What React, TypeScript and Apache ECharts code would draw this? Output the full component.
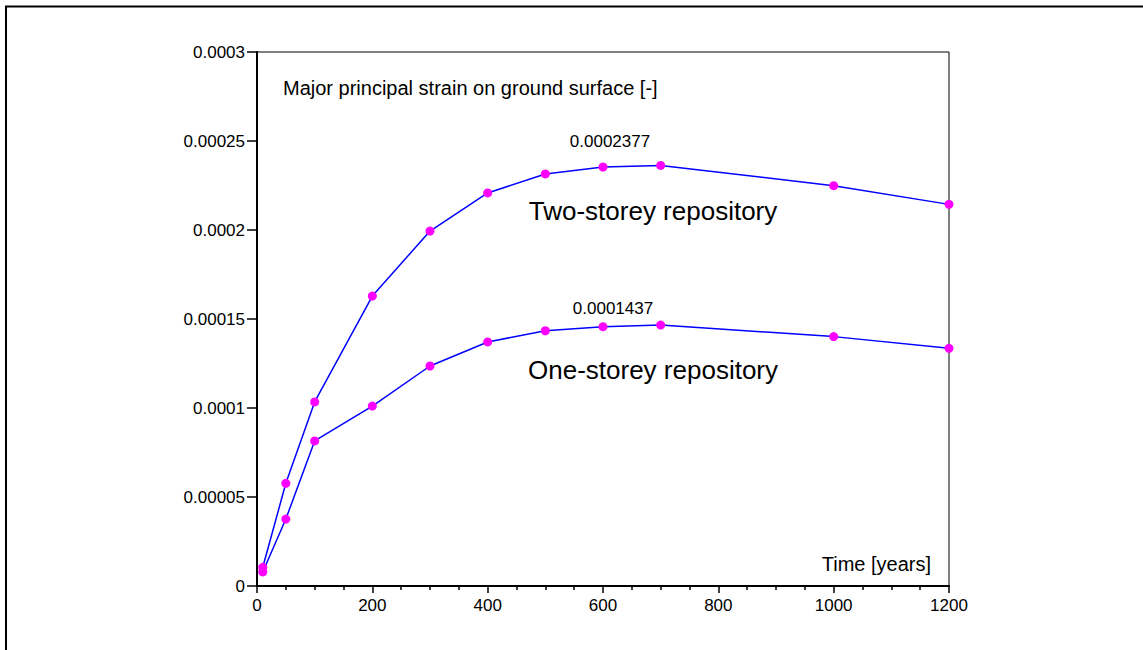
import React, { useEffect, useRef } from "react";
import * as echarts from "echarts";

const timeYears = [10, 50, 100, 200, 300, 400, 500, 600, 700, 1000, 1200];
const twoStorey = [1.05e-5, 5.77e-5, 1.034e-4, 1.629e-4, 1.994e-4, 2.208e-4, 2.315e-4, 2.354e-4, 2.363e-4, 2.249e-4, 2.144e-4];
const oneStorey = [7.9e-6, 3.76e-5, 8.15e-5, 1.011e-4, 1.236e-4, 1.371e-4, 1.434e-4, 1.457e-4, 1.466e-4, 1.401e-4, 1.335e-4];
const yTickLabels = ["0", "0.00005", "0.0001", "0.00015", "0.0002", "0.00025", "0.0003"];
const xTickLabels = ["0", "200", "400", "600", "800", "1000", "1200"];
const yTitle = "Major principal strain on ground surface [-]";
const xTitle = "Time [years]";
const twoLabel = "Two-storey repository";
const oneLabel = "One-storey repository";
const twoMax = "0.0002377";
const oneMax = "0.0001437";

const FONT = "'Liberation Sans', Arial, sans-serif";

export default function App() {
  const ref = useRef<HTMLDivElement>(null);
  useEffect(() => {
    const chart = echarts.init(ref.current!, null, { renderer: "svg" });
    const mk = (ys: number[]) => timeYears.map((x, i) => [x, ys[i]]);
    const series = [twoStorey, oneStorey].map((ys) => ({
      type: "line",
      data: mk(ys),
      symbol: "circle",
      symbolSize: 9,
      lineStyle: { color: "#0000ff", width: 1.5 },
      itemStyle: { color: "#ff00ff" },
      silent: true,
    }));
    chart.setOption({
      animation: false,
      backgroundColor: "#fff",
      textStyle: { fontFamily: FONT },
      grid: { left: 257, top: 52, width: 692, height: 534, show: true, borderColor: "#000", borderWidth: 1 },
      xAxis: {
        type: "value",
        min: 0,
        max: 1200,
        interval: 200,
        axisLine: { lineStyle: { color: "#000", width: 2 } },
        axisTick: { length: 7, lineStyle: { color: "#000", width: 1.5 } },
        minorTick: { show: true, splitNumber: 4, length: 4, lineStyle: { color: "#000", width: 1.5 } },
        splitLine: { show: false },
        axisLabel: {
          color: "#000",
          fontSize: 17,
          fontFamily: FONT,
          margin: 11,
          formatter: (v: number) => xTickLabels[Math.round(v / 200)] ?? "",
        },
      },
      yAxis: {
        type: "value",
        min: 0,
        max: 0.0003,
        interval: 0.00005,
        axisLine: { lineStyle: { color: "#000", width: 2 } },
        axisTick: { length: 10, lineStyle: { color: "#000", width: 1.5 } },
        splitLine: { show: false },
        axisLabel: {
          color: "#000",
          fontSize: 17,
          fontFamily: FONT,
          margin: 12,
          formatter: (v: number) => yTickLabels[Math.round(v / 0.00005)] ?? "",
        },
      },
      graphic: [
        { type: "line", shape: { x1: 5, y1: 6.5, x2: 1143, y2: 6.5 }, style: { stroke: "#000", lineWidth: 2 } },
        { type: "line", shape: { x1: 6, y1: 6, x2: 6, y2: 650 }, style: { stroke: "#000", lineWidth: 2 } },
        { type: "text", x: 283, y: 88, style: { text: yTitle, fontSize: 20, fontFamily: FONT, fill: "#000", textAlign: "left", textVerticalAlign: "middle" } },
        { type: "text", x: 931, y: 564, style: { text: xTitle, fontSize: 20, fontFamily: FONT, fill: "#000", textAlign: "right", textVerticalAlign: "middle" } },
        { type: "text", x: 610, y: 141, style: { text: twoMax, fontSize: 17, fontFamily: FONT, fill: "#000", textAlign: "center", textVerticalAlign: "middle" } },
        { type: "text", x: 613, y: 308, style: { text: oneMax, fontSize: 17, fontFamily: FONT, fill: "#000", textAlign: "center", textVerticalAlign: "middle" } },
        { type: "text", x: 653, y: 211, style: { text: twoLabel, fontSize: 26, fontFamily: FONT, fill: "#000", textAlign: "center", textVerticalAlign: "middle" } },
        { type: "text", x: 653, y: 370, style: { text: oneLabel, fontSize: 26, fontFamily: FONT, fill: "#000", textAlign: "center", textVerticalAlign: "middle" } },
      ],
      series,
    });
    return () => chart.dispose();
  }, []);
  return (
    <div
      ref={ref}
      style={{ position: "absolute", left: 0, top: 0, width: 1143, height: 650, background: "#fff" }}
    />
  );
}
